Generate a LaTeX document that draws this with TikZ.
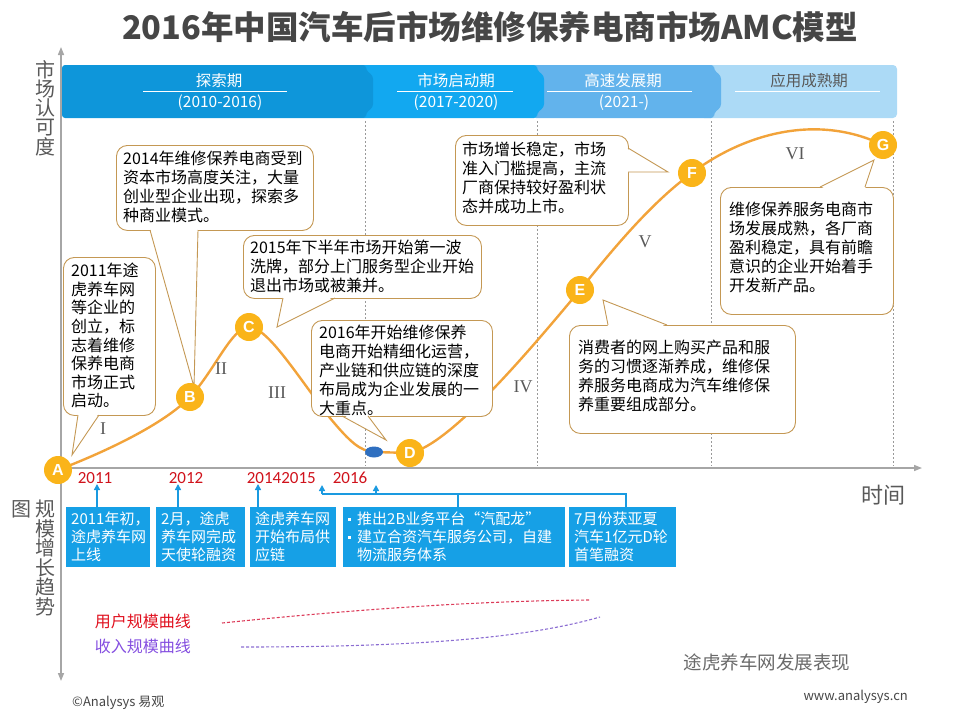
\documentclass[tikz,border=0pt]{standalone}
\usepackage{fontspec}
\setmainfont{Noto Sans CJK SC}
\newfontfamily\latsans{Liberation Sans}
\newfontfamily\latserif{Liberation Serif}
\newfontfamily\calfont{Carlito}
\usetikzlibrary{arrows.meta,calc,shapes.geometric}
\definecolor{titlegray}{RGB}{70,70,70}
\definecolor{axisgray}{RGB}{166,166,166}
\definecolor{labgray}{RGB}{89,89,89}
\definecolor{seg1}{RGB}{14,150,218}
\definecolor{seg2}{RGB}{18,168,240}
\definecolor{seg3}{RGB}{98,179,236}
\definecolor{seg4}{RGB}{172,218,246}
\definecolor{curveor}{RGB}{242,163,58}
\definecolor{msor}{RGB}{250,180,25}
\definecolor{bubline}{RGB}{196,152,84}
\definecolor{boxblue}{RGB}{22,160,230}
\definecolor{arrblue}{RGB}{26,154,224}
\definecolor{yearred}{RGB}{208,18,27}
\definecolor{legred}{RGB}{224,16,30}
\definecolor{legpur}{RGB}{132,78,224}
\definecolor{dashred}{RGB}{220,60,90}
\definecolor{dashpur}{RGB}{140,110,210}
\definecolor{ellblue}{RGB}{47,111,192}
\newcommand\bsq{\makebox[9pt][l]{\rule[4pt]{3pt}{3pt}}}
\begin{document}
\begin{tikzpicture}[x=1pt,y=-1pt,
  axisline/.style={draw=axisgray,line width=1.5pt,-{Triangle[length=8pt,width=6pt]}},
  phtxt/.style={text=white,font=\fontsize{15.5}{18}\selectfont,inner sep=0},
  phline/.style={draw=white,line width=0.8pt},
  vdash/.style={draw=gray!80,line width=0.6pt,dash pattern=on 2pt off 2pt},
  bubble/.style={draw=bubline,fill=white,line width=0.9pt,rounded corners=11pt,anchor=north west,inner sep=0},
  tailline/.style={draw=bubline,line width=0.9pt},
  btxt/.style={font=\fontsize{16}{18.9}\selectfont,align=left,inner sep=0,anchor=north west},
  roman/.style={font=\latserif\fontsize{18}{18}\selectfont,text=labgray},
  milestone/.style={circle,fill=msor,text=white,font=\latsans\bfseries\fontsize{16}{16}\selectfont,minimum size=28pt,inner sep=0},
  curve/.style={draw=curveor,line width=2.4pt},
  bluebox/.style={fill=boxblue,text=white,font=\fontsize{15}{18}\selectfont,align=left,anchor=north west,minimum height=60pt,inner xsep=5pt,inner ysep=0pt},
  yeartxt/.style={text=yearred,font=\calfont\fontsize{17}{17}\selectfont,inner sep=0},
  barrow/.style={draw=arrblue,line width=1.5pt,-{Triangle[length=6pt,width=6pt]}},
  bline/.style={draw=arrblue,line width=1.5pt},
  vlabel/.style={text=labgray,align=center,inner sep=0},
]
\useasboundingbox (0,0) rectangle (960,720);

% title
\node[font=\fontsize{32.5}{38}\selectfont\bfseries,text=titlegray] (title) at (490,27) {2016年中国汽车后市场维修保养电商市场AMC模型};

% phase banner
\fill[seg4,rounded corners=4pt] (700,65) rectangle (897,118);
\fill[seg3,rounded corners=3pt] (533,65) -- (714,65) -- (714,70) -- (721,76) -- (721,107) -- (714,113) -- (714,118) -- (533,118) -- cycle;
\fill[seg2,rounded corners=3pt] (360,65) -- (537,65) -- (537,70) -- (544,76) -- (544,107) -- (537,113) -- (537,118) -- (360,118) -- cycle;
\fill[seg1,rounded corners=3pt] (62,65) -- (366,65) -- (366,70) -- (373,76) -- (373,107) -- (366,113) -- (366,118) -- (62,118) -- cycle;
\node[phtxt] (p1) at (219,81) {探索期};
\node[phtxt] (p1y) at (220,103) {(2010-2016)};
\draw[phline] (143,91) -- (287,91);
\node[phtxt] (p2) at (456,81) {市场启动期};
\node[phtxt] (p2y) at (456,103) {(2017-2020)};
\draw[phline] (397,91) -- (513,91);
\node[phtxt] (p3) at (623,81) {高速发展期};
\node[phtxt] (p3y) at (624,103) {(2021-)};
\draw[phline] (547,91) -- (692,91);
\node[phtxt,text=labgray] (p4) at (809,81) {应用成熟期};
\draw[phline] (735,91) -- (880,91);

% dashed period separators
\draw[vdash] (365,121) -- (365,466);
\draw[vdash] (537,121) -- (537,466);
\draw[vdash] (711,121) -- (711,466);
\draw[vdash] (893,121) -- (893,466);

% axes
\coordinate (O) at (61,468);
\coordinate (xend) at (922,468);
\coordinate (yup) at (61,47);
\coordinate (ydown) at (61,681);
\draw[axisline] (O) -- (xend);
\draw[axisline] (O) -- (yup);
\draw[axisline] (O) -- (ydown);
\node[vlabel,font=\fontsize{20}{19.3}\selectfont] (ylab) at (45,108) {市\\场\\认\\可\\度};
\node[vlabel,font=\fontsize{20}{19.4}\selectfont] (ylab2) at (45,558) {规\\模\\增\\长\\趋\\势};
\node[vlabel,font=\fontsize{20}{20}\selectfont] (tu) at (21,509) {图};
\node[text=labgray,font=\fontsize{22}{22}\selectfont,inner sep=0] (time) at (883,495) {时间};

% curve
\coordinate (cA) at (58,470);
\coordinate (cB) at (190,397);
\coordinate (cC) at (249,327);
\coordinate (cm) at (330,418);
\coordinate (cbl) at (374,452);
\coordinate (cD) at (410,453);
\coordinate (cE) at (580,290);
\coordinate (cF) at (692,173);
\coordinate (cG) at (883,145);
\draw[curve] (cA) .. controls (110,450) and (165,423) .. (cB)
  .. controls (215,370) and (232,327) .. (cC)
  .. controls (268,327) and (300,380) .. (cm)
  .. controls (350,442) and (360,451) .. (cbl) -- (cD)
  .. controls (450,445) and (530,350) .. (cE)
  .. controls (620,240) and (655,200) .. (cF)
  .. controls (735,140) and (810,110) .. (cG);

% roman numerals
\node[roman] (r1) at (103,429) {I};
\node[roman] (r2) at (221,369) {II};
\node[roman] (r3) at (277,393) {III};
\node[roman] (r4) at (523,387) {IV};
\node[roman] (r5) at (645,242) {V};
\node[roman] (r6) at (795,154) {VI};

% bubble 1
\node[bubble,minimum width=92pt,minimum height=158pt] (bub1) at (63,257) {};
\coordinate (t1a) at (78,415); \coordinate (t1b) at (99,415); \coordinate (t1p) at (72,455);
\fill[white] ($(t1a)+(0,-2)$) -- (t1p) -- ($(t1b)+(0,-2)$) -- cycle;
\draw[tailline] (t1a) -- (t1p) -- (t1b);
\node[btxt,font=\fontsize{16}{18.6}\selectfont] (bt1) at (71,263) {2011年途\\虎养车网\\等企业的\\创立，标\\志着维修\\保养电商\\市场正式\\启动。};

% bubble 2
\node[bubble,minimum width=197pt,minimum height=85pt] (bub2) at (116,145) {};
\coordinate (t2a) at (150,230); \coordinate (t2b) at (198,230); \coordinate (t2p) at (194,387);
\fill[white] ($(t2a)+(0,-2)$) -- (t2p) -- ($(t2b)+(0,-2)$) -- cycle;
\draw[tailline] (t2a) -- (t2p) -- (t2b);
\node[btxt] (bt2) at (123,151) {2014年维修保养电商受到\\资本市场高度关注，大量\\创业型企业出现，探索多\\种商业模式。};

% bubble 3
\node[bubble,minimum width=238pt,minimum height=63pt] (bub3) at (243,235) {};
\coordinate (t3a) at (283,298); \coordinate (t3b) at (335,298); \coordinate (t3p) at (277,327);
\fill[white] ($(t3a)+(0,-2)$) -- (t3p) -- ($(t3b)+(0,-2)$) -- cycle;
\draw[tailline] (t3a) -- (t3p) -- (t3b);
\node[btxt] (bt3) at (250,240) {2015年下半年市场开始第一波\\洗牌，部分上门服务型企业开始\\退出市场或被兼并。};

% bubble 4
\node[bubble,minimum width=181pt,minimum height=96pt] (bub4) at (311,320) {};
\coordinate (t4a) at (342,416); \coordinate (t4b) at (368,416); \coordinate (t4p) at (386,440);
\fill[white] ($(t4a)+(0,-2)$) -- (t4p) -- ($(t4b)+(0,-2)$) -- cycle;
\draw[tailline] (t4a) -- (t4p) -- (t4b);
\node[btxt] (bt4) at (319,325) {2016年开始维修保养\\电商开始精细化运营，\\产业链和供应链的深度\\布局成为企业发展的一\\大重点。};

% bubble 5
\node[bubble,minimum width=173pt,minimum height=90pt] (bub5) at (455,135) {};
\coordinate (t5a) at (628,148); \coordinate (t5b) at (628,172); \coordinate (t5p) at (668,172);
\fill[white] ($(t5a)+(-2,0)$) -- (t5p) -- ($(t5b)+(-2,0)$) -- cycle;
\draw[tailline] (t5a) -- (t5p) -- (t5b);
\node[btxt] (bt5) at (462,142) {市场增长稳定，市场\\准入门槛提高，主流\\厂商保持较好盈利状\\态并成功上市。};

% bubble 6
\node[bubble,minimum width=226pt,minimum height=108pt] (bub6) at (569,325) {};
\coordinate (t6a) at (608,325); \coordinate (t6b) at (667,325); \coordinate (t6p) at (603,300);
\fill[white] ($(t6a)+(0,2)$) -- (t6p) -- ($(t6b)+(0,2)$) -- cycle;
\draw[tailline] (t6a) -- (t6p) -- (t6b);
\node[btxt] (bt6) at (578,340) {消费者的网上购买产品和服\\务的习惯逐渐养成，维修保\\养服务电商成为汽车维修保\\养重要组成部分。};

% bubble 7
\node[bubble,minimum width=173pt,minimum height=127pt] (bub7) at (720,187) {};
\coordinate (t7a) at (820,187); \coordinate (t7b) at (865,187); \coordinate (t7p) at (874,160);
\fill[white] ($(t7a)+(0,2)$) -- (t7p) -- ($(t7b)+(0,2)$) -- cycle;
\draw[tailline] (t7a) -- (t7p) -- (t7b);
\node[btxt] (bt7) at (729,202) {维修保养服务电商市\\场发展成熟，各厂商\\盈利稳定，具有前瞻\\意识的企业开始着手\\开发新产品。};

% milestones
\node[ellipse,fill=ellblue,minimum width=18pt,minimum height=11pt,inner sep=0] (bl) at (cbl) {};
\node[milestone] (A) at (cA) {A};
\node[milestone] (B) at (cB) {B};
\node[milestone] (C) at (cC) {C};
\node[milestone] (D) at (cD) {D};
\node[milestone] (E) at (cE) {E};
\node[milestone] (F) at (cF) {F};
\node[milestone] (G) at (cG) {G};

% years
\node[yeartxt] (y2011) at (95,478) {2011};
\node[yeartxt] (y2012) at (186,478) {2012};
\node[yeartxt] (y2014) at (264,478) {2014};
\node[yeartxt] (y2015) at (298.5,478) {2015};
\node[yeartxt] (y2016) at (350,478) {2016};

% blue boxes
\node[bluebox,text width=74pt] (bb1) at (66,507) {2011年初，\\途虎养车网\\上线};
\node[bluebox,text width=79pt] (bb2) at (156,507) {2月，途虎\\养车网完成\\天使轮融资};
\node[bluebox,text width=76pt] (bb3) at (250,507) {途虎养车网\\开始布局供\\应链};
\node[bluebox,text width=212pt] (bb4) at (343,507) {\bsq 推出2B业务平台“汽配龙”\\\bsq 建立合资汽车服务公司，自建\\\hspace*{9pt}物流服务体系};
\node[bluebox,text width=97pt] (bb5) at (569,507) {7月份获亚夏\\汽车1亿元D轮\\首笔融资};

% blue arrows
\coordinate (k1) at (97,484);
\coordinate (k2) at (178,484);
\coordinate (k3) at (258,484);
\coordinate (k4) at (322,485);
\coordinate (k5) at (376,485);
\coordinate (j1) at (322,494);
\coordinate (j2) at (626,494);
\coordinate (j3) at (458,494);
\draw[barrow] (k1 |- bb1.north) -- (k1);
\draw[barrow] (k2 |- bb2.north) -- (k2);
\draw[barrow] (k3 |- bb3.north) -- (k3);
\draw[bline] (j3 |- bb4.north) -- (j3);
\draw[bline] (j2 |- bb5.north) -- (j2) -- (j1);
\draw[barrow] (j1) -- (k4);
\draw[barrow] (k5 |- j1) -- (k5);

% legend
\node[text=legred,font=\fontsize{16}{16}\selectfont,anchor=east,inner sep=0] (lg1) at (191,621) {用户规模曲线};
\node[text=legpur,font=\fontsize{16}{16}\selectfont,anchor=east,inner sep=0] (lg2) at (191,646) {收入规模曲线};
\coordinate (lr1) at (222,623); \coordinate (lr2) at (590,600);
\coordinate (lp1) at (241,647); \coordinate (lp2) at (600,617);
\draw[dashred,line width=1.1pt,dash pattern=on 3pt off 2pt] (lr1) .. controls (330,612) and (460,601) .. (lr2);
\draw[dashpur,line width=1.1pt,dash pattern=on 3pt off 2pt] (lp1) .. controls (400,647) and (520,640) .. (lp2);

% footer texts
\node[text=labgray!90,font=\fontsize{18.5}{19}\selectfont,inner sep=0] (perf) at (767,662) {途虎养车网发展表现};
\node[text=titlegray,font=\fontsize{13}{14}\selectfont,anchor=west,inner sep=0] (copy) at (72,703) {©Analysys 易观};
\node[text=titlegray,font=\fontsize{13}{14}\selectfont,anchor=east,inner sep=0] (www) at (908,697) {www.analysys.cn};
\end{tikzpicture}
\end{document}
